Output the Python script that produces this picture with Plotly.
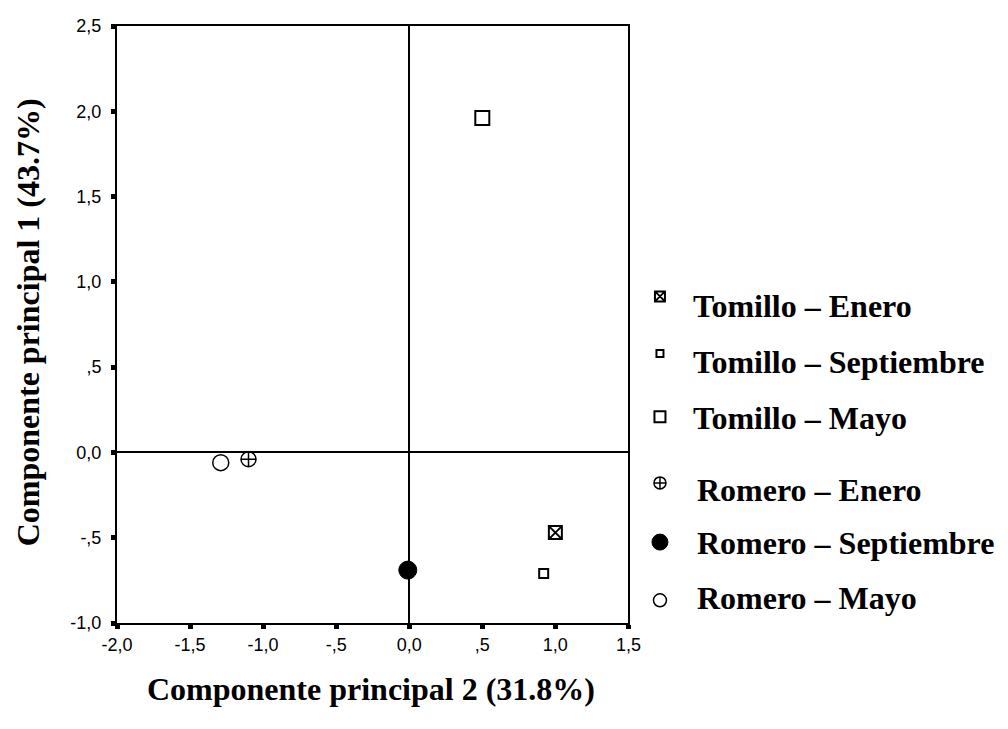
import plotly.graph_objects as go

# ---------------- data ----------------
series_names = ["Tomillo – Enero", "Tomillo – Septiembre", "Tomillo – Mayo",
                "Romero – Enero", "Romero – Septiembre", "Romero – Mayo"]
comp2_x = [1.00, 0.92, 0.50, -1.10, -0.01, -1.29]
comp1_y = [-0.47, -0.71, 1.96, -0.04, -0.69, -0.06]

x_tickvals = [-2.0, -1.5, -1.0, -0.5, 0.0, 0.5, 1.0, 1.5]
x_ticktext = ["-2,0", "-1,5", "-1,0", "-,5", "0,0", ",5", "1,0", "1,5"]
y_tickvals = [-1.0, -0.5, 0.0, 0.5, 1.0, 1.5, 2.0, 2.5]
y_ticktext = ["-1,0", "-,5", "0,0", ",5", "1,0", "1,5", "2,0", "2,5"]

x_title = "Componente principal 2 (31.8%)"
y_title = "Componente principal 1 (43.7%)"

# ---------------- styles ----------------
symbols = ["square-x-open", "square-open", "square-open",
           "circle-cross-open", "circle", "circle-open"]
plot_sizes = [13, 9, 14, 15, 18, 16]
legend_sizes = [10, 7, 11, 12, 16, 13]
line_widths = [2, 2, 2, 1.5, 1, 1.5]

OFF = 8  # page body margin offset
W, H = 1008, 729
# target screen positions of plot box
scr_left, scr_right, scr_top, scr_bottom = 117, 636, 18, 623
ML = scr_left - OFF
MT = scr_top - OFF
MR = 8
MB = H - (scr_bottom - OFF)
PW = W - ML - MR
PH = H - MT - MB
x_dom_end = (scr_right - OFF - ML) / PW
leg_dom_start = 0.6
leg_left_px = ML + leg_dom_start * PW

# legend layout (screen pixel positions)
leg_sym_x = 668
leg_sym_y = [292, 350, 414, 481, 541, 600]
leg_txt_x = [699, 699, 699, 704, 704, 704]
leg_txt_y = [302, 358, 415, 488, 542, 598]

serif = "Liberation Serif, Times New Roman, serif"
sans = "Liberation Sans, Arial, sans-serif"

fig = go.Figure()

for i, name in enumerate(series_names):
    fig.add_trace(go.Scatter(
        x=[comp2_x[i]], y=[comp1_y[i]], mode="markers", name=name,
        marker=dict(symbol=symbols[i], size=plot_sizes[i], color="black",
                    line=dict(color="black", width=line_widths[i])),
        showlegend=False, xaxis="x", yaxis="y", cliponaxis=False,
    ))

# legend symbols
for i, name in enumerate(series_names):
    fig.add_trace(go.Scatter(
        x=[leg_sym_x - OFF], y=[leg_sym_y[i] - OFF], mode="markers", name=name,
        marker=dict(symbol=symbols[i], size=legend_sizes[i], color="black",
                    line=dict(color="black", width=line_widths[i])),
        showlegend=False, xaxis="x2", yaxis="y2", hoverinfo="skip",
    ))

annotations = []
for i, name in enumerate(series_names):
    annotations.append(dict(
        x=leg_txt_x[i] - OFF, y=leg_txt_y[i] - OFF, xref="x2", yref="y2",
        text=name, showarrow=False, xanchor="left", yanchor="middle",
        font=dict(family=serif, size=32, color="black", weight="bold"),
    ))

annotations.append(dict(
    x=(375 - OFF - ML) / PW, y=(MT + PH - (690 - OFF)) / PH,
    xref="paper", yref="paper",
    text=x_title, showarrow=False, xanchor="center", yanchor="middle",
    font=dict(family=serif, size=32, color="black", weight="bold"),
))
annotations.append(dict(
    x=(27 - OFF - ML) / PW, y=(MT + PH - (318 - OFF)) / PH,
    xref="paper", yref="paper",
    text=y_title, showarrow=False, xanchor="center", yanchor="middle",
    textangle=-90,
    font=dict(family=serif, size=32, color="black", weight="bold"),
))

axis_common = dict(
    showgrid=False, showline=True, linecolor="black", linewidth=2,
    mirror=True, ticks="outside", ticklen=4, tickwidth=5, tickcolor="black",
    zeroline=True, zerolinecolor="black", zerolinewidth=1.5,
    tickfont=dict(family=sans, size=18, color="black"),
)

fig.update_layout(
    width=W, height=H,
    margin=dict(l=ML, r=MR, t=MT, b=MB, pad=0),
    paper_bgcolor="white", plot_bgcolor="rgba(0,0,0,0)",
    showlegend=False,
    xaxis=dict(domain=[0, x_dom_end], range=[-2.0, 1.5],
               tickmode="array", tickvals=x_tickvals, ticktext=x_ticktext,
               ticklabelstandoff=0, anchor="y", **axis_common),
    yaxis=dict(domain=[0, 1], range=[-1.0, 2.5],
               tickmode="array", tickvals=y_tickvals, ticktext=y_ticktext,
               ticklabelstandoff=6, anchor="x", **axis_common),
    xaxis2=dict(domain=[leg_dom_start, 1], range=[leg_left_px, W - MR],
                visible=False, anchor="y2", fixedrange=True),
    yaxis2=dict(domain=[0, 1], range=[MT + PH, MT], visible=False,
                anchor="x2", fixedrange=True),
    annotations=annotations,
)

fig.write_html("out.html")
